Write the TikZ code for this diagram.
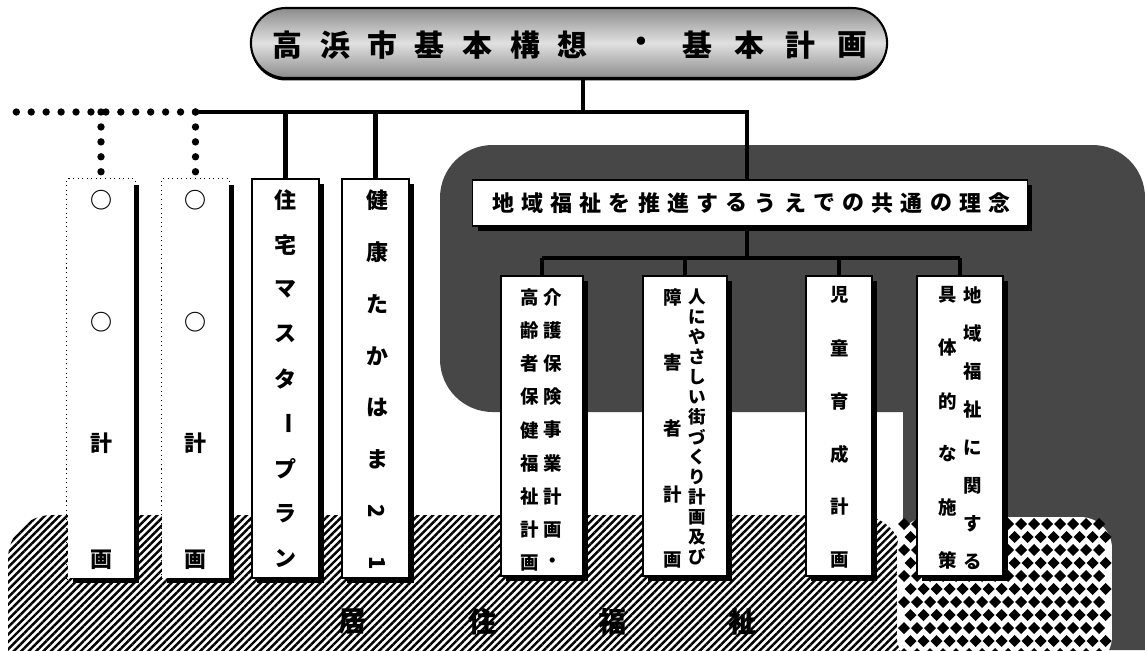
\documentclass[tikz,border=0pt]{standalone}
\usepackage{fontspec}
\newfontfamily\jp{Noto Sans CJK JP}
\usetikzlibrary{shapes.misc,shadows,patterns.meta}

\begin{document}
\begin{tikzpicture}[x=0.02cm,y=-0.02cm,
    plan/.style={draw,line width=0.8pt,fill=white,inner sep=0pt,
      drop shadow={shadow xshift=0.1cm,shadow yshift=-0.1cm,fill=black,opacity=1}},
    tall/.style={plan,minimum width=1.34cm,minimum height=7.98cm},
    short/.style={plan,minimum height=6cm},
    link/.style={line width=2.6pt},
    dotlink/.style={line width=4.2pt,line cap=round,dash pattern=on 0pt off 8.5pt},
    big/.style={font=\jp\bfseries\fontsize{12.5}{14}\selectfont,inner sep=0pt},
    small/.style={font=\jp\bfseries\fontsize{10.5}{12}\selectfont,inner sep=0pt},
    tiny/.style={font=\jp\bfseries\fontsize{10}{11}\selectfont,inner sep=0pt},
    head/.style={font=\jp\bfseries\fontsize{17}{19}\selectfont,inner sep=0pt},
    band/.style={font=\jp\bfseries\fontsize{16}{18}\selectfont,inner sep=0pt}]
    \useasboundingbox (0,0) rectangle (1145,650);
    \fill[white] (0,0) rectangle (1145,650);

    % dark back, hatched band and checks
    \fill[black!72] (903,650) -- (903,412) [rounded corners=30] -- (440,412) -- (440,145) -- (1145,145) [sharp corners] -- (1145,650) -- cycle;
    \fill[pattern={Lines[angle=45,distance=3pt,line width=1.4pt]},rounded corners=25] (8,515) -- (903,515) -- (903,700) -- (8,700) -- cycle;
    \fill[white,rounded corners=18] (897,517) rectangle (1112,668);
    \fill[black!72] (1112,500) rectangle (1145,650);
    \foreach \j in {0,...,10}
        \foreach \i in {0,...,15}
            \fill ({904+13*\i+6.5*mod(\j,2)},{524+13*\j}) +(0,-6) -- +(6,0) -- +(0,6) -- +(-6,0) -- cycle;
    \foreach \ch/\x in {居/353,住/483,福/613,祉/743}
        \node[band] at (\x,622) {\ch};

    % top
    \node[rounded rectangle,draw,line width=1.2pt,minimum width=12.96cm,minimum height=1.4cm,
        top color=black!45,bottom color=black!45,middle color=black!12,
        drop shadow={shadow xshift=0cm,shadow yshift=-0.05cm,fill=black,opacity=1}] (title) at (569,43) {};
    \foreach \ch/\x in {高/287,浜/335,市/382,基/429,本/477,構/525,想/572,・/641,基/697,本/749,計/800,画/852}
        \node[head] at (\x,45) {\ch};

    % boxes
    \node[tall,draw=none] (planA) at (101,379) {};
    \node[tall,draw=none] (planB) at (195.5,379) {};
    \draw[dotted,line width=0.6pt] (planA.south west) rectangle (planA.north east);
    \draw[dotted,line width=0.6pt] (planB.south west) rectangle (planB.north east);
    \node[tall] (housing) at (285.5,378.5) {};
    \node[tall] (health) at (375.5,378.5) {};
    \node[plan,minimum width=11.1cm,minimum height=0.92cm] (concept) at (750,203) {};
    \node[short,minimum width=1.64cm] (elder) at (542,426) {};
    \node[short,minimum width=1.68cm] (town) at (685,426) {};
    \node[short,minimum width=1.32cm] (child) at (839,426) {};
    \node[short,minimum width=1.72cm] (local) at (960,426) {};

    % lines
    \coordinate (hub) at (583,112);
    \coordinate (turn) at (747,112);
    \coordinate (split) at (747,258);
    \coordinate (dotend) at (15,112);
    \draw[link] (title.south -| hub) -- (hub);
    \draw[link] (planB.north |- hub) -- (turn) -- (turn |- concept.north);
    \draw[dotlink] (planB.north |- hub) -- (dotend);
    \draw[dotlink] (planA.north |- hub) -- (planA.north);
    \draw[dotlink] (planB.north |- hub) -- (planB.north);
    \draw[link] (housing.north |- hub) -- (housing.north);
    \draw[link] (health.north |- hub) -- (health.north);
    \draw[link] (concept.south -| split) -- (split);
    \draw[link] (elder.north |- split) -- (local.north |- split);
    \foreach \b in {elder,town,child,local}
        \draw[link] (\b.north |- split) -- (\b.north);

    % texts
    \foreach \ch [count=\i from 0] in {地,域,福,祉,を,推,進,す,る,う,え,で,の,共,通,の,理,念}
        \node[big] at ({503+29.2*\i},203) {\ch};
    \foreach \x in {101,195.5}
        \foreach \ch/\y in {○/200,○/322,計/443,画/560}
            \node[big] at (\x,\y) {\ch};
    \foreach \ch [count=\i from 0] in {住,宅,マ,ス,タ,\rotatebox{-90}{ー},プ,ラ,ン}
        \node[big] at (285.5,{200+44.75*\i}) {\ch};
    \foreach \ch [count=\i from 0] in {健,康,た,か,は,ま,\rotatebox{-90}{2},\rotatebox{-90}{1}}
        \node[big] at (377,{200+51.9*\i}) {\ch};
    \foreach \ch [count=\i from 0] in {介,護,保,険,事,業,計,画,・}
        \node[small] at (553,{297+33.25*\i}) {\ch};
    \foreach \ch [count=\i from 0] in {高,齢,者,保,健,福,祉,計,画}
        \node[small] at (530,{297+33.25*\i}) {\ch};
    \foreach \ch [count=\i from 0] in {人,に,や,さ,し,い,街,づ,く,り,計,画,及,び}
        \node[tiny] at (697,{297+20*\i}) {\ch};
    \foreach \ch [count=\i from 0] in {障,害,者,計,画}
        \node[small] at (673,{297+65.75*\i}) {\ch};
    \foreach \ch [count=\i from 0] in {児,童,育,成,計,画}
        \node[small] at (840,{295+53*\i}) {\ch};
    \foreach \ch [count=\i from 0] in {地,域,福,祉,に,関,す,る}
        \node[small] at (973,{295+38.1*\i}) {\ch};
    \foreach \ch [count=\i from 0] in {具,体,的,な,施,策}
        \node[small] at (948,{295+53*\i}) {\ch};
\end{tikzpicture}
\end{document}
